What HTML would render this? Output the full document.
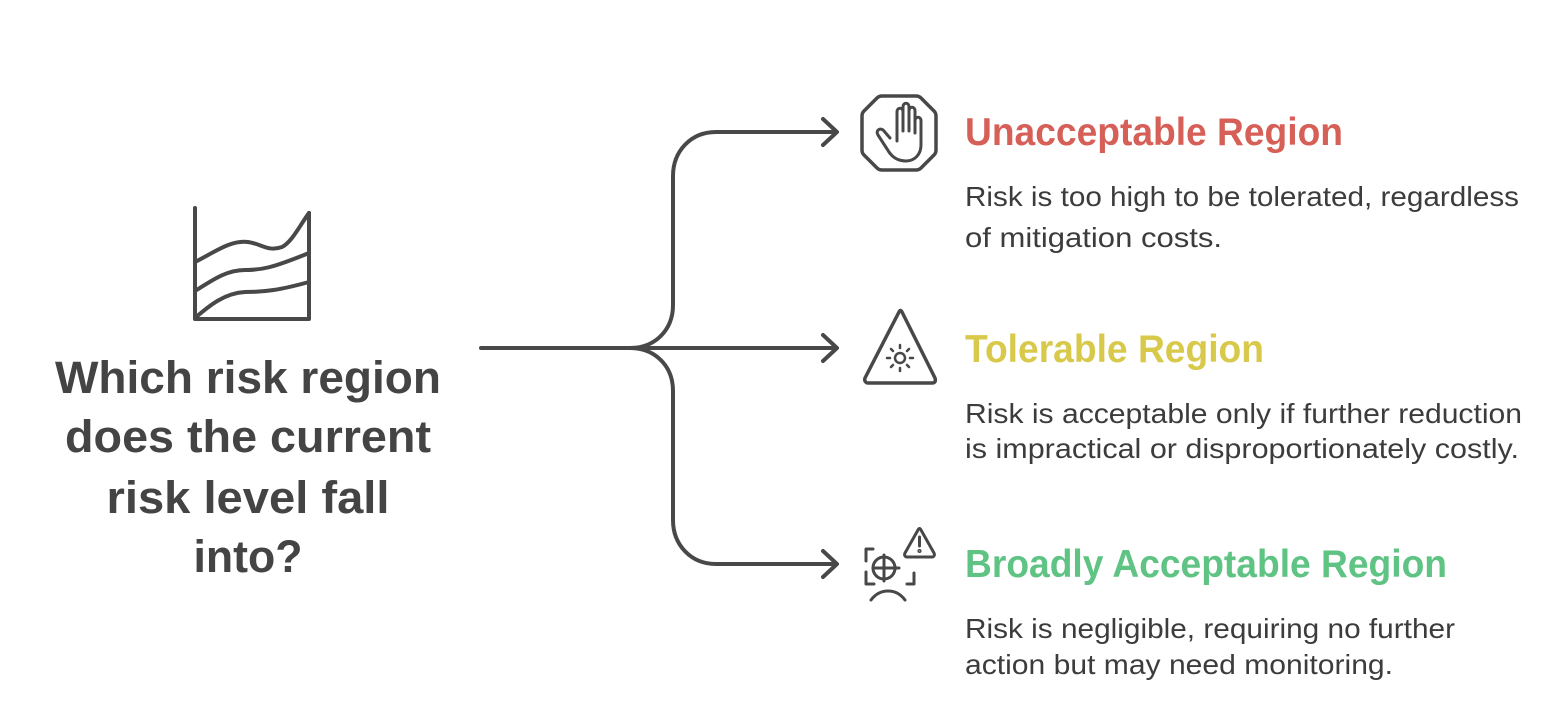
<!DOCTYPE html>
<html><head><meta charset="utf-8"><style>
html,body{margin:0;padding:0;background:#fff;}
svg{display:block;}
text{font-family:"Liberation Sans",Arial,sans-serif;}
</style></head><body>
<svg width="1563" height="702" viewBox="0 0 1563 702" xmlns="http://www.w3.org/2000/svg">
<g fill="none" stroke="#484848" stroke-width="4" stroke-linecap="round" stroke-linejoin="round">
  <path d="M195 208 V319 H309 V213"/>
  <path d="M195 262 C215 252 230 240 248 242 C262 244 268 252 282 247 C292 242 300 225 309 213"/>
  <path d="M195 291 C210 282 225 270 245 270 C262 270 272 268 309 253"/>
  <path d="M195 318 C210 305 225 293 245 292 C265 292 280 290 309 282"/>
  <path d="M481 348 H836"/>
  <path d="M630 348 C655 348 673 330 673 305 V176 C673 151 691 132 716 132 H836"/>
  <path d="M630 348 C655 348 673 366 673 391 V520 C673 545 691 564 716 564 H836"/>
  <path d="M823 119 L837 132 L823 145"/>
  <path d="M823 335 L837 348 L823 361"/>
  <path d="M823 551 L837 564 L823 577"/>
  <path d="M882 96 H916 Q919 96 921 98 L934 111 Q936 113 936 116 V150 Q936 153 934 155 L921 168 Q919 170 916 170 H882 Q879 170 877 168 L864 155 Q862 153 862 150 V116 Q862 113 864 111 L877 98 Q879 96 882 96 Z" stroke-width="3.5"/>
  <path d="M890 138 L884 131 C881 127 875 130 878 135 L889 152 C893 158 899 161 906 161 C915 161 921 154 921 145 V121 C921 116 915 116 915 121 V133 M915 133 V111 C915 106 909 106 909 111 V131 M909 131 V107 C909 102 903 102 903 107 V131 M903 131 V112 C903 107 897 107 897 112 V141" stroke-width="3"/>
  <path d="M899 312 L865 378 C864 381 866 383 868 383 H932 C935 383 936 381 935 378 L902 312 C901 310 900 310 899 312 Z" stroke-width="3.5"/>
  <circle cx="900" cy="358" r="5" stroke-width="2.5"/>
  <path d="M900 345 V348 M900 368 V371 M887 358 H890 M910 358 H913 M891 349 L893 351 M907 365 L909 367 M909 349 L907 351 M891 367 L893 365" stroke-width="2.5"/>
  <path d="M873 549 H866 V561 M866 572 V584 H874 M914 573 V584 H907" stroke-width="3"/>
  <circle cx="884" cy="568" r="11" stroke-width="3"/>
  <path d="M884 555 V581 M873 568 H899" stroke-width="3"/>
  <path d="M871 600 C880 588 896 588 905 600" stroke-width="3"/>
  <path d="M918 530 L905 553 C904 555 905 557 907 557 H932 C934 557 935 555 934 553 L921 530 C920 528 919 528 918 530 Z" stroke-width="3"/>
  <path d="M919.5 537 V546" stroke-width="3"/>
  <circle cx="919.5" cy="551" r="0.8" stroke-width="2.5"/>
</g>
<g fill="#444" font-weight="bold" font-size="45" text-anchor="middle">
  <text x="248" y="393" textLength="386" lengthAdjust="spacingAndGlyphs">Which risk region</text>
  <text x="248" y="452" textLength="366" lengthAdjust="spacingAndGlyphs">does the current</text>
  <text x="248" y="513" textLength="283" lengthAdjust="spacingAndGlyphs">risk level fall</text>
  <text x="248" y="572" textLength="109" lengthAdjust="spacingAndGlyphs">into?</text>
</g>
<g font-weight="bold" font-size="39">
  <text x="965" y="145" fill="#d65f57" textLength="378" lengthAdjust="spacingAndGlyphs">Unacceptable Region</text>
  <text x="965" y="362" fill="#d8c94a" textLength="299" lengthAdjust="spacingAndGlyphs">Tolerable Region</text>
  <text x="965" y="577" fill="#5ec383" textLength="482" lengthAdjust="spacingAndGlyphs">Broadly Acceptable Region</text>
</g>
<g fill="#3c3c3c" font-size="28">
  <text x="965" y="206" textLength="554" lengthAdjust="spacingAndGlyphs">Risk is too high to be tolerated, regardless</text>
  <text x="965" y="247" textLength="257" lengthAdjust="spacingAndGlyphs">of mitigation costs.</text>
  <text x="965" y="423" textLength="557" lengthAdjust="spacingAndGlyphs">Risk is acceptable only if further reduction</text>
  <text x="965" y="458" textLength="554" lengthAdjust="spacingAndGlyphs">is impractical or disproportionately costly.</text>
  <text x="965" y="638" textLength="490" lengthAdjust="spacingAndGlyphs">Risk is negligible, requiring no further</text>
  <text x="965" y="674" textLength="428" lengthAdjust="spacingAndGlyphs">action but may need monitoring.</text>
</g>
</svg>
</body></html>
